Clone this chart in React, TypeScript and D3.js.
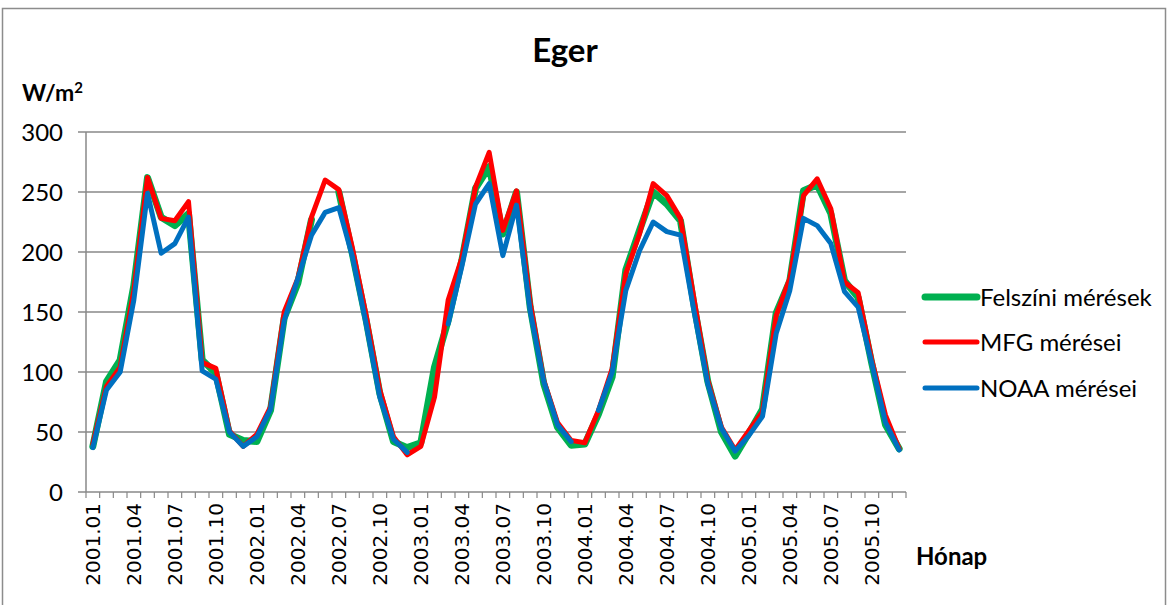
import React from "react";
import * as d3 from "d3";

const months: string[] = [];
for (let y = 2001; y <= 2005; y++) for (let m = 1; m <= 12; m++) months.push(`${y}.${String(m).padStart(2, "0")}`);

const felszini: (number | null)[] = [38, 92, 110, 172, 262, 229, 222, 232, 110, 99, 48, 43, 42, 68, 145, 174, 227, null, 250, 198, 143, 82, 42, 37, 41, 104, 143, 193, 253, 271, 215, 250, 154, 90, 54, 39, 40, 65, 96, 185, 218, 250, 240, 226, 155, 92, 50, 30, 49, 69, 149, 176, 251, 256, 232, 176, 162, 107, 56, 36];
const mfg: (number | null)[] = [40, 88, 104, 168, 262, 228, 226, 242, 108, 103, 51, 38, 48, 71, 150, 178, 229, 260, 252, 203, 147, 85, 46, 31, 38, 79, 160, 195, 254, 283, 218, 251, 158, 93, 58, 43, 41, 68, 103, 182, 215, 257, 247, 228, 160, 93, 54, 35, 51, 67, 147, 178, 247, 261, 236, 175, 166, 110, 64, 36];
const noaa: (number | null)[] = [37, 85, 100, 160, 249, 199, 207, 229, 101, 94, 50, 38, 46, 69, 143, 178, 214, 233, 237, 196, 140, 79, 44, 33, null, null, 140, 188, 240, 257, 197, 239, 151, 92, 56, 42, null, 68, 100, 168, 201, 225, 217, 214, 150, 90, 53, 34, 47, 63, 132, 168, 228, 222, 207, 167, 154, 107, 58, 35];

const yTicks = [0, 50, 100, 150, 200, 250, 300];
const seriesNames = ["Felszíni mérések", "MFG mérései", "NOAA mérései"];
const seriesColors = ["#00B050", "#FF0000", "#0070C0"];
const seriesWidths = [7, 5, 5];

export default function App() {
  const W = 1172, H = 605;
  const x0 = 86, x1 = 906, yTop = 132, yBot = 492;
  const x = d3.scaleBand<string>().domain(months).range([x0, x1]);
  const y = d3.scaleLinear().domain([0, 300]).range([yBot, yTop]);
  const cx = (i: number) => (x(months[i]) as number) + x.bandwidth() / 2;
  const line = d3
    .line<number | null>()
    .defined((d) => d !== null)
    .x((_, i) => cx(i))
    .y((d) => y(d as number));
  const data = [felszini, mfg, noaa];
  const grid = "#888888";
  const font = "Lato, 'Open Sans', sans-serif";
  const legendY = [297, 342, 388];

  return (
    <svg width={W} height={H} style={{ position: "absolute", left: 0, top: 0, background: "#fff" }}>
      <rect x={2.5} y={8.5} width={1163} height={620} fill="#fff" stroke="#8c8c8c" strokeWidth={1.5} />
      <text x={565} y={62} textAnchor="middle" fontFamily={font} fontWeight={700} fontSize={33}>Eger</text>
      <text x={22} y={101} fontFamily={font} fontWeight={700} fontSize={23}>
        W/m<tspan fontSize={15} dy={-8}>2</tspan>
      </text>
      {yTicks.map((t) => (
        <g key={t}>
          <line x1={x0} x2={x1} y1={y(t)} y2={y(t)} stroke={grid} strokeWidth={1.5} />
          <line x1={78} x2={x0} y1={y(t)} y2={y(t)} stroke={grid} strokeWidth={1.5} />
          <text x={63} y={y(t)} dy="0.36em" textAnchor="end" fontFamily={font} fontSize={24}>{t}</text>
        </g>
      ))}
      <line x1={x0} x2={x0} y1={yTop} y2={yBot} stroke={grid} strokeWidth={1.5} />
      {d3.range(months.length + 1).map((i) => {
        const xv = x0 + i * x.bandwidth();
        return <line key={i} x1={xv} x2={xv} y1={yBot} y2={yBot + 6} stroke={grid} strokeWidth={1.2} />;
      })}
      {months.map((m, i) =>
        i % 3 === 0 ? (
          <text key={m} transform={`translate(${cx(i)},${503}) rotate(-90)`} dy="0.36em" textAnchor="end" fontFamily="'DejaVu Sans', Verdana, sans-serif" fontSize={20}>
            {m}
          </text>
        ) : null
      )}
      <text x={916} y={565} fontFamily={font} fontWeight={700} fontSize={24}>Hónap</text>
      {data.map((d, k) => (
        <path key={k} d={line(d) || ""} fill="none" stroke={seriesColors[k]} strokeWidth={seriesWidths[k]} strokeLinejoin="round" strokeLinecap="round" />
      ))}
      {seriesNames.map((n, k) => (
        <g key={n}>
          <line x1={925} x2={977} y1={legendY[k]} y2={legendY[k]} stroke={seriesColors[k]} strokeWidth={seriesWidths[k]} strokeLinecap="round" />
          <text x={980} y={legendY[k]} dy="0.36em" fontFamily={font} fontSize={24}>{n}</text>
        </g>
      ))}
    </svg>
  );
}
